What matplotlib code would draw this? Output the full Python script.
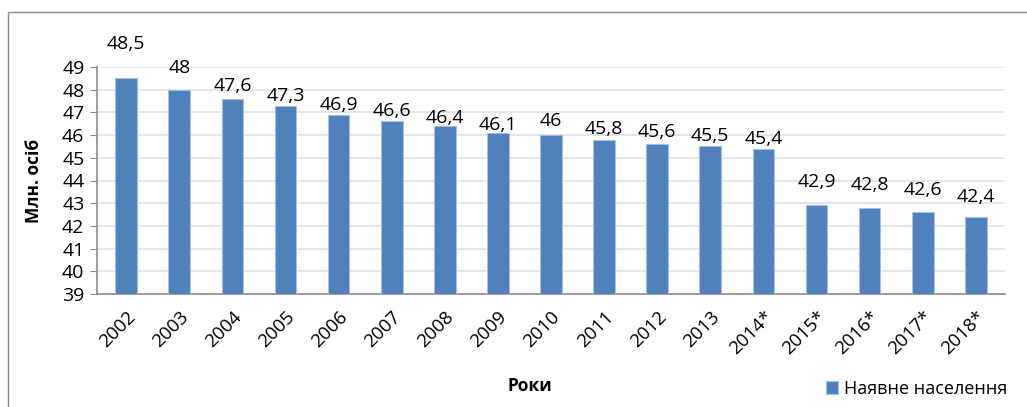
import matplotlib.pyplot as plt
from matplotlib.patches import Rectangle
from matplotlib.transforms import ScaledTranslation

# дані: наявне населення України, млн осіб
years = ['2002', '2003', '2004', '2005', '2006', '2007', '2008', '2009', '2010',
         '2011', '2012', '2013', '2014*', '2015*', '2016*', '2017*', '2018*']
population = [48.5, 48, 47.6, 47.3, 46.9, 46.6, 46.4, 46.1, 46,
              45.8, 45.6, 45.5, 45.4, 42.9, 42.8, 42.6, 42.4]

# зсув підписів над стовпчиками (пікселі), як у вихідній діаграмі
label_shift = [34, 22, 13, 10, 10, 10, 8, 8, 14,
               11, 12, 10, 10, 23, 23, 22, 20]

plt.rcParams['font.family'] = ['Open Sans', 'DejaVu Sans']

fig = plt.figure(figsize=(10.27, 4.07), dpi=100)
ax = fig.add_axes([97 / 1027, 1 - 294 / 407, 908 / 1027, 227 / 407])

# рамка навколо діаграми
fig.patches.append(Rectangle((8 / 1027, -0.05), 1.1, 1 - 12 / 407 + 0.05,
                             transform=fig.transFigure, fill=False,
                             edgecolor='#8c8c8c', linewidth=1))

x = range(len(years))
ax.bar(x, population, width=0.41, bottom=0, color='#4F81BD',
       edgecolor='#A7BFDE', linewidth=0.8, zorder=3,
       label='Наявне населення')

for xi, v, sh in zip(x, population, label_shift):
    lbl = f'{v:g}'.replace('.', ',')
    ax.annotate(lbl, (xi, v), xytext=(0, sh * 0.72), textcoords='offset points',
                ha='center', va='center', fontsize=14, zorder=4)

ax.set_ylim(39, 49)
ax.set_xlim(-0.55, len(years) - 0.45)
ax.set_yticks(range(39, 50))
ax.yaxis.grid(True, color='#D9E2F0', linewidth=1.2, zorder=0)
ax.set_axisbelow(True)

ax.set_xticks(list(x))
ax.set_xticklabels(years, rotation=45, ha='right', rotation_mode='anchor', fontsize=13.5)
shift = ScaledTranslation(-9 / 100, -6 / 100, fig.dpi_scale_trans)
for t in ax.get_xticklabels():
    t.set_transform(t.get_transform() + shift)
ax.tick_params(axis='y', labelsize=14, length=5, color='#8c8c8c', pad=4)
ax.tick_params(axis='x', length=0, pad=10)

for side in ['top', 'right']:
    ax.spines[side].set_visible(False)
for side in ['left', 'bottom']:
    ax.spines[side].set_color('#8c8c8c')
    ax.spines[side].set_linewidth(1.2)

ax.set_ylabel('Млн. осіб', fontsize=12.5, fontweight='bold')
ax.yaxis.set_label_coords(-0.060, 0.5)
ax.set_xlabel('Роки', fontsize=12.5, fontweight='bold')
ax.xaxis.set_label_coords(0.477, -0.365)

ax.legend(loc='lower right', bbox_to_anchor=(1.02, -0.53), frameon=False,
          fontsize=13, handlelength=0.7, handleheight=0.7, handletextpad=0.3)

fig.savefig('out.png', dpi=100)
